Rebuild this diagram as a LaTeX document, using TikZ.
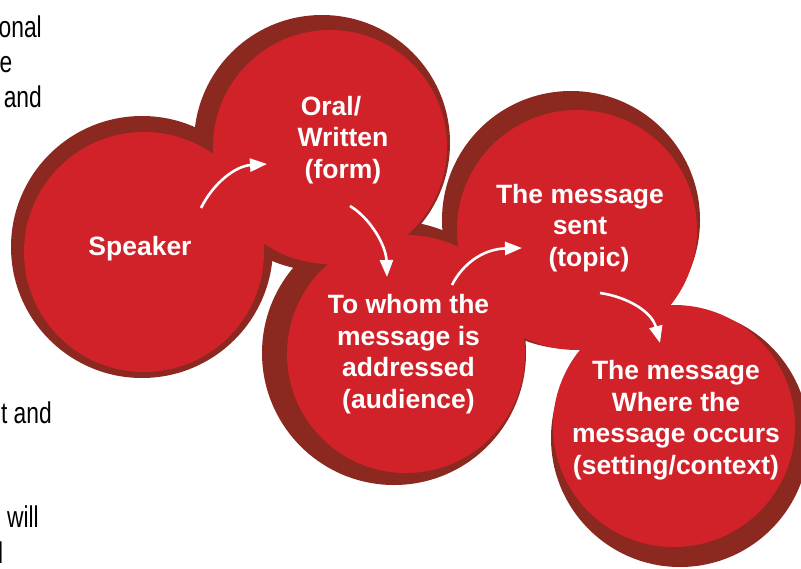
\documentclass[tikz,border=0pt]{standalone}
\usepackage{fontspec}
\setmainfont{Liberation Sans}
\usetikzlibrary{arrows.meta}
\definecolor{bubred}{RGB}{209,34,42}
\definecolor{bubdark}{RGB}{139,41,32}
\tikzset{
  rim/.style={fill=bubdark},
  bub/.style={fill=bubred},
  lbl/.style={text=white, font=\bfseries\fontsize{26.5}{31.5}\selectfont, align=center, inner sep=0pt},
  frag/.style={text=black, font=\fontsize{30}{35}\selectfont, inner sep=0pt, anchor=base east},
  flow/.style={draw=white, line width=2.6pt, -{Triangle[length=17pt,width=13pt]}}
}
\newcommand{\narrowtxt}[1]{\scalebox{0.76}[1]{#1}}
\begin{document}
\begin{tikzpicture}[x=1pt,y=-1pt]
\useasboundingbox (0,0) rectangle (801,568);
% shadows
\fill[rim] (142,247) circle[radius=131pt];
\fill[rim] (322,143) circle[radius=128pt];
\fill[rim] (571,220) circle[radius=129pt];
\fill[rim] (394,353) circle[radius=132pt];
\fill[rim] (680,438) circle[radius=129pt];
% discs
\fill[bub] (144,252) circle[radius=120pt];
\fill[bub] (330,147) circle[radius=117pt];
\fill[bub] (577,230) circle[radius=120pt];
\fill[bub] (406,354) circle[radius=119pt];
\fill[bub] (674,426) circle[radius=121pt];
% labels
\node[lbl] (speaker) at (140,249) {Speaker};
\node[lbl] (form) at (343,140) {Oral/\hspace*{24pt}\\Written\\(form)};
\node[lbl] (audience) at (408.5,354) {To whom the\\message is\\addressed\\(audience)};
\node[lbl] (topic) at (580,228) {The message\\sent\\\hspace*{18pt}(topic)};
\node[lbl] (setting) at (676,420) {The message\\Where the\\message occurs\\(setting/context)};
% arrow ends
\coordinate (a1s) at (201,208); \coordinate (a1e) at (267,164);
\coordinate (a2s) at (350,206); \coordinate (a2e) at (387,277);
\coordinate (a3s) at (452,285); \coordinate (a3e) at (522,248);
\coordinate (a4s) at (600,293); \coordinate (a4e) at (660,343);
\draw[flow] (a1s) .. controls (214,182) and (236,166) .. (a1e);
\draw[flow] (a2s) .. controls (370,218) and (386,245) .. (a2e);
\draw[flow] (a3s) .. controls (462,265) and (482,249) .. (a3e);
\draw[flow] (a4s) .. controls (628,297) and (652,312) .. (a4e);
% cut-off text at the left edge
\node[frag] (t1) at (42,37) {\narrowtxt{onal}};
\node[frag] (t2) at (12.5,72) {\narrowtxt{e}};
\node[frag] (t3) at (42,107) {\narrowtxt{and}};
\node[frag] (t4) at (52,423) {\narrowtxt{t and}};
\node[frag] (t5) at (39,527) {\narrowtxt{will}};
\node[frag] (t6) at (3.5,563) {\narrowtxt{l}};
\end{tikzpicture}
\end{document}
